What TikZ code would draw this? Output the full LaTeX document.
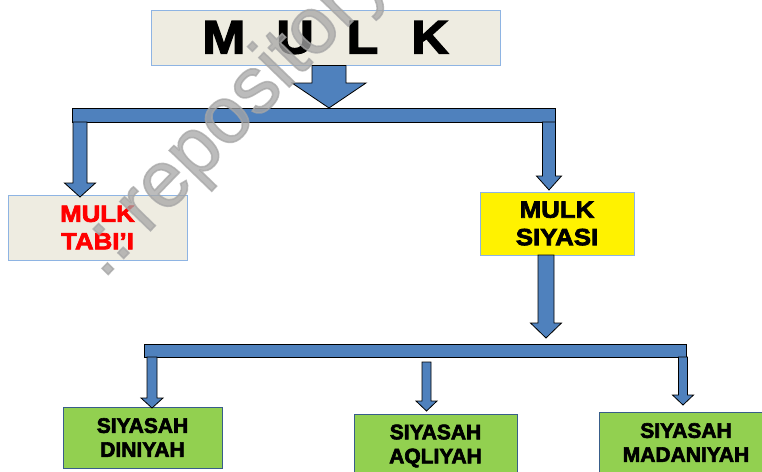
\documentclass[tikz,border=0pt]{standalone}
\usepackage{fontspec}
\setmainfont{Liberation Sans}
\newfontfamily\heavy{Liberation Sans}[UprightFont=*-Bold, UprightFeatures={FakeBold=3}]
\newfontfamily\heavywide{Liberation Sans}[UprightFont=*-Bold, UprightFeatures={FakeBold=3, FakeStretch=1.1}]
\newfontfamily\wmfont{Liberation Sans}[UprightFeatures={FakeBold=2}]
\definecolor{beige}{HTML}{EEECE1}
\definecolor{lblue}{HTML}{8EB4E3}
\definecolor{barblue}{HTML}{4F81BD}
\definecolor{gfill}{HTML}{92D050}
\definecolor{gborder}{HTML}{385D8A}
\definecolor{wmgray}{HTML}{A6A6A6}
\tikzset{
  boxbeige/.style={draw=lblue, fill=beige, line width=0.9pt, inner sep=0pt},
  boxyellow/.style={draw=lblue, fill=yellow, line width=0.9pt, inner sep=0pt},
  boxgreen/.style={draw=gborder, fill=gfill, line width=0.9pt, inner sep=0pt},
  hbar/.style={draw=black, fill=barblue, line width=0.9pt, inner sep=0pt},
  arrowsty/.style={draw=black, fill=barblue, line width=0.8pt, line join=miter},
  lbl/.style={align=center, font=\heavy\fontsize{21}{24}\selectfont},
  lblbig/.style={align=center, font=\heavywide\fontsize{23.5}{27.5}\selectfont}
}
\newcommand\barrow[6]{%
  \draw[arrowsty] ({#1-#5},#2) -- ({#1+#5},#2) -- ({#1+#5},#3) -- ({#1+#6},#3)
    -- (#1,#4) -- ({#1-#6},#3) -- ({#1-#5},#3) -- cycle;}
\begin{document}
\begin{tikzpicture}[x=1pt,y=-1pt]
\useasboundingbox (0,0) rectangle (762,471);
\clip (0,0) rectangle (762,471);
\fill[white] (0,0) rectangle (762,471);
% top box
\node[boxbeige, minimum width=349pt, minimum height=55pt] (mulk) at (325.5,37.5)
  {\heavywide\fontsize{47}{50}\selectfont M\hspace{31pt}U\hspace{33pt}L\hspace{33pt}K};
% bars
\node[hbar, minimum width=483pt, minimum height=14pt] (bar1) at (313.5,115) {};
\node[hbar, minimum width=542pt, minimum height=13pt] (bar2) at (415,350.5) {};
% second level
\node[boxbeige, minimum width=179pt, minimum height=65pt, text=red, lblbig] (tabii) at (97.5,227.5) {MULK\\TABI’I};
\node[boxyellow, minimum width=154pt, minimum height=63pt, lblbig] (siyasi) at (557,223.5) {MULK\\SIYASI};
% third level
\node[boxgreen, minimum width=159pt, minimum height=61pt, lbl] (diniyah) at (142.5,437.5) {SIYASAH\\DINIYAH};
\node[boxgreen, minimum width=163pt, minimum height=64pt, lbl] (aqliyah) at (435.5,446) {SIYASAH\\AQLIYAH};
\node[boxgreen, minimum width=174pt, minimum height=61pt, lbl] (madaniyah) at (686,442.5) {SIYASAH\\MADANIYAH};
% block arrows
\barrow{329}{65.5}{83}{108}{17}{37}
\barrow{80}{122}{183}{197}{7}{15.5}
\barrow{549}{122}{176}{190}{6.5}{12.5}
\barrow{546}{255}{323}{338}{8}{15.5}
\barrow{152}{357}{398}{408}{5}{11}
\barrow{426.5}{362}{401}{411}{4.5}{10.5}
\barrow{683}{357}{395}{405}{4.5}{10.5}
% watermark
\node[text=wmgray, opacity=0.75, rotate=46, font=\wmfont\fontsize{80}{80}\selectfont, inner sep=0pt] (wm) at (232,116.5) {.:\hspace{18pt}repository};
\end{tikzpicture}
\end{document}
